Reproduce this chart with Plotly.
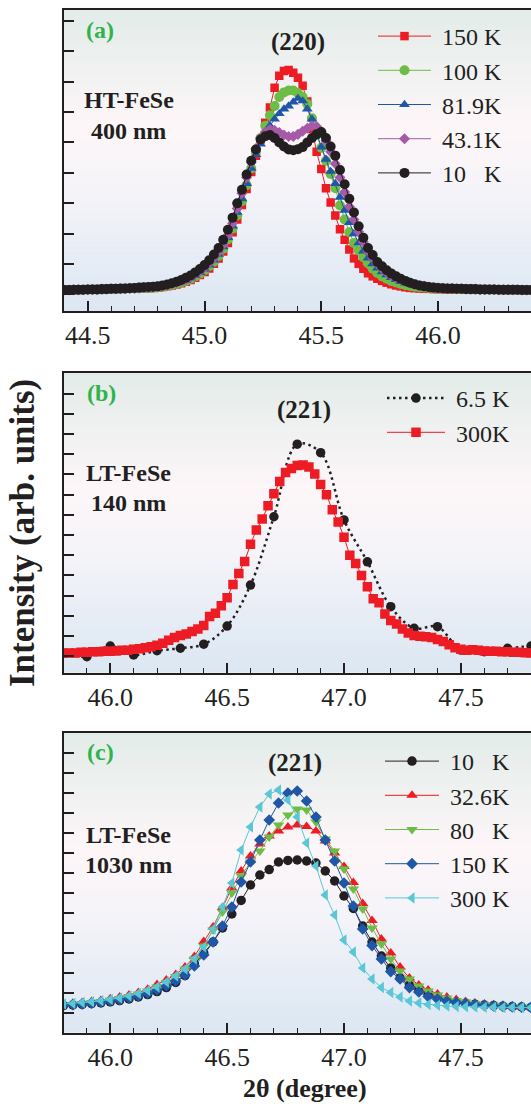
import plotly.graph_objects as go

W, H = 531, 1104

# ---------------- data: panel (a) HT-FeSe 400 nm, (220) ----------------
a_start, a_step = 44.40, 0.02
a_labels = ["150 K", "100 K", "81.9K", "43.1K", "10\u00a0\u00a0\u00a0K"]
a_150K = [
    0.00, 0.00, 0.00, 0.00, 0.01, 0.01, 0.01, 0.02, 0.02, 0.02,
    0.03, 0.03, 0.03, 0.04, 0.04, 0.05, 0.05, 0.06, 0.06, 0.07,
    0.08, 0.10, 0.12, 0.15, 0.18, 0.22, 0.27, 0.33, 0.40, 0.49,
    0.59, 0.71, 0.86, 1.04, 1.27, 1.55, 1.90, 2.32, 2.80, 3.32,
    3.88, 4.42, 4.95, 5.50, 6.00, 6.65, 7.05, 7.20, 7.24, 7.15,
    6.98, 6.72, 6.20, 5.30, 4.55, 3.98, 3.35, 2.88, 2.45, 2.00,
    1.65, 1.33, 1.04, 0.86, 0.70, 0.55, 0.45, 0.37, 0.30, 0.24,
    0.19, 0.15, 0.12, 0.09, 0.07, 0.06, 0.05, 0.04, 0.04, 0.03,
    0.03, 0.03, 0.02, 0.02, 0.02, 0.02, 0.01, 0.01, 0.01, 0.01,
    0.01, 0.01, 0.01, 0.01, 0.00, 0.00, 0.00, 0.00, 0.00, 0.00,
    0.00]
a_100K = [
    0.00, 0.00, 0.00, 0.01, 0.01, 0.01, 0.02, 0.02, 0.02, 0.03,
    0.03, 0.03, 0.04, 0.04, 0.05, 0.05, 0.06, 0.07, 0.07, 0.08,
    0.09, 0.11, 0.14, 0.17, 0.21, 0.25, 0.30, 0.37, 0.45, 0.54,
    0.65, 0.78, 0.93, 1.12, 1.36, 1.66, 2.02, 2.45, 2.92, 3.45,
    4.00, 4.55, 5.00, 5.40, 5.75, 6.05, 6.35, 6.50, 6.56, 6.56,
    6.48, 6.35, 6.12, 5.65, 5.10, 4.68, 4.25, 3.82, 3.35, 2.78,
    2.32, 1.90, 1.55, 1.30, 1.08, 0.88, 0.70, 0.56, 0.45, 0.37,
    0.30, 0.25, 0.20, 0.16, 0.13, 0.11, 0.09, 0.08, 0.07, 0.06,
    0.05, 0.05, 0.04, 0.04, 0.03, 0.03, 0.03, 0.02, 0.02, 0.02,
    0.02, 0.01, 0.01, 0.01, 0.01, 0.01, 0.00, 0.00, 0.00, 0.00,
    0.00]
a_81K = [
    0.00, 0.00, 0.00, 0.01, 0.01, 0.01, 0.02, 0.02, 0.02, 0.03,
    0.03, 0.04, 0.04, 0.05, 0.05, 0.06, 0.07, 0.07, 0.08, 0.09,
    0.10, 0.12, 0.15, 0.18, 0.22, 0.27, 0.32, 0.39, 0.47, 0.57,
    0.69, 0.82, 0.98, 1.17, 1.42, 1.72, 2.10, 2.55, 3.00, 3.50,
    4.00, 4.45, 4.80, 5.10, 5.40, 5.62, 5.80, 5.95, 6.05, 6.18,
    6.30, 6.22, 5.95, 5.62, 5.15, 4.70, 4.30, 3.90, 3.50, 3.05,
    2.62, 2.22, 1.85, 1.55, 1.28, 1.05, 0.86, 0.72, 0.60, 0.50,
    0.41, 0.34, 0.28, 0.23, 0.19, 0.15, 0.12, 0.10, 0.08, 0.07,
    0.06, 0.05, 0.05, 0.04, 0.04, 0.03, 0.03, 0.03, 0.02, 0.02,
    0.02, 0.02, 0.01, 0.01, 0.01, 0.01, 0.01, 0.00, 0.00, 0.00,
    0.00]
a_43K = [
    0.00, 0.00, 0.01, 0.01, 0.01, 0.02, 0.02, 0.02, 0.03, 0.03,
    0.04, 0.04, 0.04, 0.05, 0.06, 0.06, 0.07, 0.08, 0.09, 0.10,
    0.11, 0.13, 0.16, 0.20, 0.24, 0.29, 0.35, 0.42, 0.51, 0.62,
    0.74, 0.88, 1.05, 1.25, 1.50, 1.80, 2.20, 2.68, 3.18, 3.70,
    4.20, 4.65, 5.00, 5.20, 5.28, 5.25, 5.18, 5.10, 5.05, 5.05,
    5.12, 5.22, 5.32, 5.40, 5.38, 5.20, 4.90, 4.55, 4.15, 3.70,
    3.22, 2.75, 2.32, 1.92, 1.58, 1.28, 1.05, 0.86, 0.71, 0.58,
    0.48, 0.40, 0.33, 0.27, 0.22, 0.18, 0.14, 0.12, 0.10, 0.08,
    0.07, 0.06, 0.05, 0.05, 0.04, 0.04, 0.03, 0.03, 0.03, 0.02,
    0.02, 0.02, 0.02, 0.01, 0.01, 0.01, 0.01, 0.01, 0.00, 0.00,
    0.00]
a_10K = [
    0.00, 0.00, 0.01, 0.01, 0.01, 0.02, 0.02, 0.02, 0.03, 0.03,
    0.04, 0.04, 0.05, 0.05, 0.06, 0.07, 0.08, 0.09, 0.10, 0.11,
    0.12, 0.15, 0.18, 0.22, 0.27, 0.33, 0.40, 0.48, 0.58, 0.69,
    0.82, 0.98, 1.17, 1.38, 1.65, 1.98, 2.38, 2.85, 3.30, 3.80,
    4.25, 4.62, 4.95, 5.06, 5.10, 5.00, 4.85, 4.72, 4.62, 4.60,
    4.63, 4.70, 4.85, 5.00, 5.12, 5.20, 5.00, 4.72, 4.42, 3.95,
    3.48, 3.00, 2.55, 2.10, 1.72, 1.38, 1.15, 0.92, 0.78, 0.65,
    0.54, 0.45, 0.37, 0.30, 0.24, 0.19, 0.15, 0.12, 0.10, 0.08,
    0.07, 0.06, 0.05, 0.05, 0.04, 0.04, 0.03, 0.03, 0.03, 0.02,
    0.02, 0.02, 0.02, 0.01, 0.01, 0.01, 0.01, 0.01, 0.00, 0.00,
    0.00]

# ---------------- data: panel (b) LT-FeSe 140 nm, (221) ----------------
b_labels = ["6.5 K", "300K"]
b_6K_x = [45.8, 45.9, 46.0, 46.1, 46.2, 46.3, 46.4, 46.5, 46.6, 46.7, 46.8,
          46.9, 47.0, 47.1, 47.2, 47.3, 47.4, 47.5, 47.6, 47.7, 47.8]
b_6K = [0.00, -0.17, 0.36, -0.08, 0.13, 0.25, 0.45, 1.35, 3.38, 6.76, 10.35,
        9.93, 6.60, 4.53, 2.31, 1.24, 1.32, 0.16, 0.08, 0.25, 0.36]
b_start, b_step = 45.800, 0.025
b_300K = [
    0.00, 0.02, 0.02, 0.05, 0.05, 0.08, 0.08, 0.10, 0.10, 0.12,
    0.15, 0.15, 0.20, 0.22, 0.28, 0.32, 0.40, 0.50, 0.65, 0.78,
    0.88, 0.95, 1.08, 1.20, 1.38, 1.82, 1.98, 2.35, 2.75, 3.40,
    3.95, 4.55, 5.40, 6.10, 6.65, 7.30, 7.90, 8.50, 8.95, 9.15,
    9.30, 9.32, 9.22, 8.88, 8.35, 7.85, 7.10, 6.50, 5.75, 4.85,
    4.45, 3.85, 3.30, 2.70, 2.50, 1.95, 1.62, 1.45, 1.20, 1.00,
    0.88, 0.85, 0.82, 0.78, 0.68, 0.58, 0.42, 0.28, 0.20, 0.15,
    0.18, 0.15, 0.12, 0.10, 0.10, 0.08, 0.08, 0.05, 0.05, 0.03,
    0.02]

# ---------------- data: panel (c) LT-FeSe 1030 nm, (221) ----------------
c_start, c_step = 45.80, 0.04
c_labels = ["10\u00a0\u00a0\u00a0K", "32.6K", "80\u00a0\u00a0\u00a0K", "150 K", "300 K"]
c_10K = [
    0.12, 0.15, 0.18, 0.22, 0.26, 0.31, 0.37, 0.45, 0.55, 0.67,
    0.82, 1.02, 1.28, 1.62, 2.20, 2.75, 3.30, 4.00, 4.70, 5.38,
    6.15, 6.65, 6.92, 7.30, 7.38, 7.40, 7.35, 7.25, 6.85, 6.35,
    5.60, 4.98, 4.10, 3.30, 2.60, 2.00, 1.50, 1.15, 0.88, 0.68,
    0.52, 0.40, 0.31, 0.24, 0.19, 0.15, 0.12, 0.09, 0.07, 0.05,
    0.03]
c_32K = [
    0.20, 0.24, 0.28, 0.32, 0.38, 0.46, 0.55, 0.65, 0.78, 0.94,
    1.18, 1.40, 1.68, 2.05, 2.58, 3.32, 4.05, 5.02, 6.00, 6.85,
    7.60, 8.20, 8.60, 8.85, 9.05, 9.15, 9.08, 8.85, 8.35, 7.75,
    7.08, 6.28, 5.22, 4.38, 3.45, 2.75, 2.05, 1.50, 1.15, 0.90,
    0.70, 0.55, 0.42, 0.33, 0.25, 0.20, 0.16, 0.12, 0.08, 0.05,
    0.02]
c_80K = [
    0.15, 0.18, 0.22, 0.27, 0.33, 0.40, 0.48, 0.58, 0.70, 0.85,
    1.05, 1.28, 1.58, 1.95, 2.45, 3.10, 3.90, 4.80, 5.75, 6.60,
    7.30, 7.85, 8.55, 9.15, 9.65, 9.95, 9.90, 9.30, 8.45, 7.85,
    6.95, 5.95, 4.95, 4.00, 3.20, 2.45, 1.85, 1.45, 1.10, 0.85,
    0.65, 0.50, 0.38, 0.30, 0.23, 0.18, 0.14, 0.10, 0.07, 0.05,
    0.03]
c_150K = [
    0.15, 0.17, 0.20, 0.24, 0.29, 0.35, 0.42, 0.50, 0.60, 0.73,
    0.90, 1.10, 1.35, 1.65, 2.10, 2.65, 3.30, 4.10, 5.05, 6.30,
    7.30, 8.40, 9.40, 10.25, 10.75, 10.85, 10.35, 9.55, 8.40, 7.35,
    6.25, 5.10, 3.95, 3.12, 2.45, 1.82, 1.45, 1.02, 0.80, 0.57,
    0.45, 0.35, 0.28, 0.22, 0.17, 0.13, 0.10, 0.08, 0.06, 0.04,
    0.03]
c_300K = [
    0.20, 0.23, 0.27, 0.31, 0.36, 0.42, 0.50, 0.60, 0.72, 0.88,
    1.05, 1.30, 1.60, 1.95, 2.45, 3.05, 3.95, 5.05, 6.25, 7.90,
    9.05, 10.05, 10.70, 10.90, 10.40, 9.55, 8.25, 7.10, 5.65, 4.65,
    3.40, 2.80, 2.00, 1.45, 1.02, 0.78, 0.55, 0.35, 0.25, 0.18,
    0.14, 0.10, 0.08, 0.06, 0.05, 0.04, 0.04, 0.03, 0.03, 0.02,
    0.02]

tick_labels_a = ["44.5", "45.0", "45.5", "46.0"]
tick_labels_bc = ["46.0", "46.5", "47.0", "47.5"]


def grid(start, step, n):
    return [round(start + i * step, 4) for i in range(n)]


# ---------------- styling ----------------
SERIF = "Liberation Serif, Times New Roman, serif"
INK = "#231f20"
RED = "#ed1c24"
GREEN = "#6cbd45"
BLUE = "#1f56a6"
PURPLE = "#a55aa8"
CYAN = "#5bc6d4"
LABEL_GREEN = "#2fb34a"
NB = "\u00a0"

fig = go.Figure()


def px_x(p):
    return p / W


def px_y(p):
    return 1 - p / H


def add(xref, yref, legend, x, y, name, color, symbol, size, dash="solid",
        shape="linear", lw=1.0):
    fig.add_trace(go.Scatter(
        x=x, y=y, name=NB + name, mode="lines+markers",
        xaxis=xref, yaxis=yref, legend=legend,
        line=dict(color=color, width=lw, dash=dash, shape=shape),
        marker=dict(symbol=symbol, size=size, color=color, line=dict(width=0)),
    ))


xa = grid(a_start, a_step, len(a_10K))
add("x", "y", "legend", xa, a_150K, a_labels[0], RED, "square", 8.5)
add("x", "y", "legend", xa, a_100K, a_labels[1], GREEN, "circle", 10)
add("x", "y", "legend", xa, a_81K, a_labels[2], BLUE, "triangle-up", 9.5)
add("x", "y", "legend", xa, a_43K, a_labels[3], PURPLE, "diamond", 8.5)
add("x", "y", "legend", xa, a_10K, a_labels[4], INK, "circle", 10)

xb = grid(b_start, b_step, len(b_300K))
add("x2", "y2", "legend2", b_6K_x, b_6K, b_labels[0], INK, "circle", 9.5,
    dash="2.5px,3.5px", shape="spline", lw=2.5)
add("x2", "y2", "legend2", xb, b_300K, b_labels[1], RED, "square", 9.5)

xc = grid(c_start, c_step, len(c_10K))
add("x3", "y3", "legend3", xc, c_10K, c_labels[0], INK, "circle", 9.5)
add("x3", "y3", "legend3", xc, c_32K, c_labels[1], RED, "triangle-up", 10)
add("x3", "y3", "legend3", xc, c_80K, c_labels[2], GREEN, "triangle-down", 10)
add("x3", "y3", "legend3", xc, c_150K, c_labels[3], BLUE, "diamond", 9)
add("x3", "y3", "legend3", xc, c_300K, c_labels[4], CYAN, "triangle-left", 10)

# panel geometry (pixels)
left_px = 63.5
panels = [
    dict(top=10, bottom=311, xr=[44.396, 46.398], yr=[-0.69, 9.21], t0=0.855,
         labels=tick_labels_a),
    dict(top=372.7, bottom=672.7, xr=[45.80, 47.80], yr=[-0.96, 13.89], t0=0.856,
         labels=tick_labels_bc),
    dict(top=732.7, bottom=1032.7, xr=[45.80, 47.80], yr=[-1.235, 13.765], t0=0.735,
         labels=tick_labels_bc),
]

stops = [(0.0, (219, 231, 242)), (0.42, (246, 244, 249)), (0.62, (253, 246, 248)),
         (1.0, (226, 236, 233))]


def grad(t):
    for (t0, c0), (t1, c1) in zip(stops[:-1], stops[1:]):
        if t0 <= t <= t1:
            f = (t - t0) / (t1 - t0)
            return "rgb(%d,%d,%d)" % tuple(round(a + (b - a) * f) for a, b in zip(c0, c1))
    return "rgb(%d,%d,%d)" % stops[-1][1]


layout = {}
shapes = []
for i, p in enumerate(panels):
    sfx = "" if i == 0 else str(i + 1)
    ydom = [px_y(p["bottom"]), px_y(p["top"])]
    layout["xaxis" + sfx] = dict(
        domain=[px_x(left_px), 1.0], range=p["xr"], anchor="y" + sfx,
        showline=True, linecolor=INK, linewidth=2, mirror=True,
        ticks="inside", ticklen=10, tickwidth=1.5, tickcolor=INK,
        tickmode="array", tickvals=[float(v) for v in p["labels"]], ticktext=p["labels"],
        minor=dict(ticks="inside", ticklen=5, tickwidth=1.3, tickcolor=INK, dtick=0.1,
                   tick0=float(p["labels"][0])),
        showgrid=False, zeroline=False,
        tickfont=dict(family=SERIF, size=26, color=INK), ticklabelstandoff=0,
    )
    layout["yaxis" + sfx] = dict(
        domain=ydom, range=p["yr"], anchor="x" + sfx,
        showline=True, linecolor=INK, linewidth=2, mirror=False,
        ticks="inside", ticklen=10, tickwidth=1.5, tickcolor=INK,
        tickmode="linear", tick0=p["t0"], dtick=1, showticklabels=False,
        showgrid=False, zeroline=False,
    )
    nb = 60
    for k in range(nb):
        shapes.append(dict(
            type="rect", xref="x%s domain" % sfx, yref="y%s domain" % sfx,
            x0=0, x1=1, y0=k / nb, y1=(k + 1) / nb + 0.002, layer="below",
            line=dict(width=0), fillcolor=grad((k + 0.5) / nb)))

legend_common = dict(
    font=dict(family=SERIF, size=24, color=INK), bgcolor="rgba(0,0,0,0)",
    xanchor="left", yanchor="top",
)
layout["legend"] = dict(legend_common, x=px_x(373), y=px_y(14), itemwidth=53)
layout["legend2"] = dict(legend_common, x=px_x(382), y=px_y(376), itemwidth=58)
layout["legend3"] = dict(legend_common, x=px_x(380), y=px_y(739), itemwidth=54)


def ann(text, cx, cy, size, color=INK, bold=True, angle=0):
    t = "<b>%s</b>" % text if bold else text
    return dict(text=t, x=px_x(cx), y=px_y(cy), xref="paper", yref="paper",
                xanchor="center", yanchor="middle", showarrow=False, textangle=angle,
                font=dict(family=SERIF, size=size, color=color))


annotations = [
    ann("(a)", 100, 30, 24, LABEL_GREEN), ann("(220)", 298, 42, 25),
    ann("HT-FeSe", 129, 100, 24), ann("400 nm", 128, 131, 24),
    ann("(b)", 101, 393, 24, LABEL_GREEN), ann("(221)", 304, 410, 25),
    ann("LT-FeSe", 128, 473, 24), ann("140 nm", 128, 503, 24),
    ann("(c)", 100, 752, 24, LABEL_GREEN), ann("(221)", 295, 763, 25),
    ann("LT-FeSe", 128, 835, 24), ann("1030 nm", 128, 865, 24),
    ann("2\u03b8 (degree)", 305, 1088, 26),
    ann("Intensity (arb. units)", 22, 533, 35, angle=-90),
]

fig.update_layout(
    width=W, height=H, margin=dict(l=0, r=0, t=0, b=0),
    paper_bgcolor="white", plot_bgcolor="rgba(0,0,0,0)",
    showlegend=True, shapes=shapes, annotations=annotations, **layout,
)

fig.write_html(
    "out.html",
    config={"displayModeBar": False},
    post_script=("document.body.style.margin='0';"
                 "document.body.style.overflow='hidden';"
                 "document.documentElement.style.overflow='hidden';"),
)
